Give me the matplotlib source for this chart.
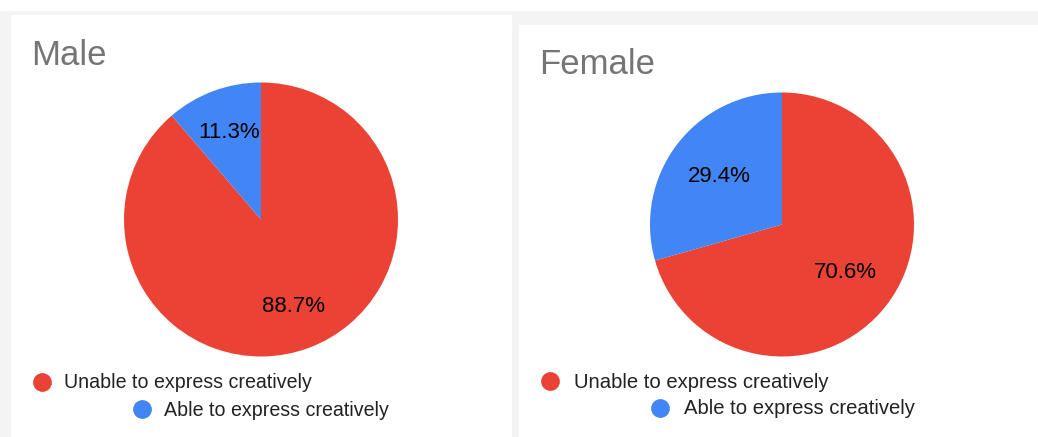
import matplotlib
matplotlib.use('Agg')
import matplotlib.pyplot as plt
from matplotlib.patches import Rectangle

plt.rcParams['font.family'] = ['Liberation Sans', 'DejaVu Sans']

# survey answers, share of respondents in percent
categories = ['Unable to express creatively', 'Able to express creatively']
male_share = [88.7, 11.3]
female_share = [70.6, 29.4]
colors = ['#ea4335', '#4285f4']

W, H = 1038, 437
fig = plt.figure(figsize=(W / 100, H / 100), dpi=100)
fig.patch.set_facecolor('white')

# page background and the two white cards, in pixel units
bg = fig.add_axes([0, 0, 1, 1])
bg.set_xlim(0, W)
bg.set_ylim(H, 0)
bg.axis('off')
bg.add_patch(Rectangle((0, 11), W, H - 11, facecolor='#f4f4f4', edgecolor='none'))
bg.add_patch(Rectangle((11, 15), 501, H - 15, facecolor='white', edgecolor='none'))
bg.add_patch(Rectangle((519, 25), W - 519, H - 25, facecolor='white', edgecolor='none'))


def pie_panel(title, values, cx, cy, r, pct_dist, title_xy, rows, leg_size, leg_gap):
    ax = fig.add_axes([(cx - r) / W, (H - cy - r) / H, 2 * r / W, 2 * r / H])
    ax.pie(values, colors=colors, startangle=90, counterclock=False,
           autopct='%.1f%%', pctdistance=pct_dist,
           wedgeprops=dict(linewidth=0),
           textprops=dict(fontsize=16, color='black'))
    ax.set_xlim(-1, 1)
    ax.set_ylim(-1, 1)
    ax.set_aspect('equal')

    bg.text(title_xy[0], title_xy[1], title, fontsize=25, color='#757575',
            va='baseline', ha='left')

    # legend: one dot and label per category
    for (lx, ly), name, c in zip(rows, categories, colors):
        bg.plot([lx], [ly], 'o', markersize=13.5, color=c, markeredgewidth=0)
        bg.text(lx + leg_gap, ly + 1, name, fontsize=leg_size, color='#222222',
                va='center', ha='left')


pie_panel('Male', male_share, 261, 219.5, 137, 0.68, (31, 65),
          [(42, 382), (142, 409)], 14.1, 22)
pie_panel('Female', female_share, 782, 224.5, 132, 0.60, (539, 74),
          [(550, 381), (660, 408)], 14.6, 24)

fig.savefig('out.png', dpi=100)
